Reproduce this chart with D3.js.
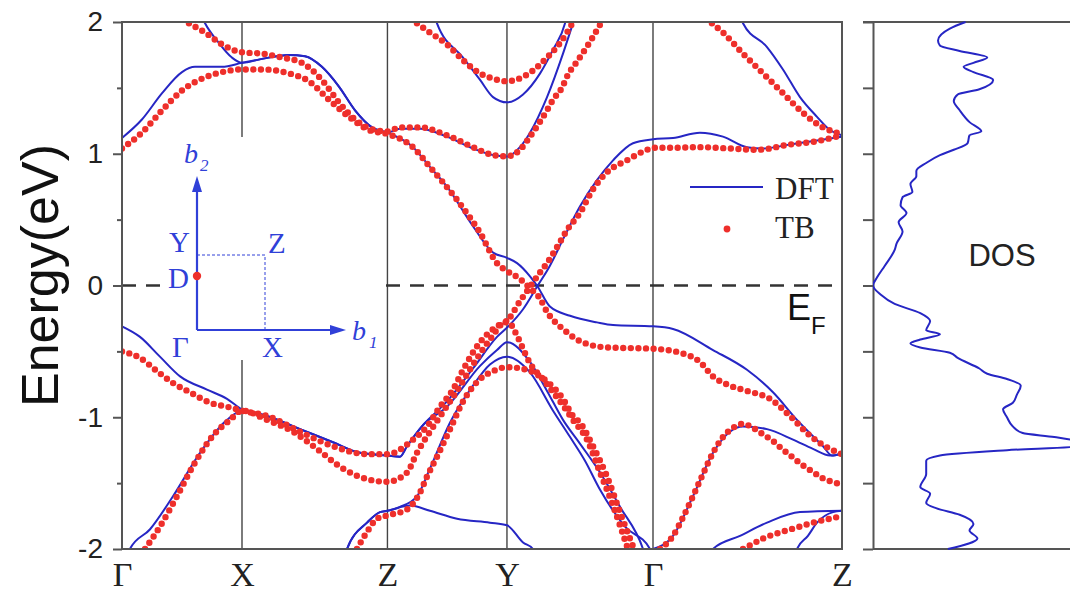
<!DOCTYPE html>
<html>
<head>
<meta charset="utf-8">
<script src="https://cdn.jsdelivr.net/npm/d3@7"></script>
<style>
  body { margin: 0; background: #fff; }
  .tick text { fill: #222; }
</style>
</head>
<body>
<div id="chart"></div>
<script>
var svgWidth = 1070;
var svgHeight = 595;

// band plot box and DOS panel box
var plot = { left: 122, right: 842, top: 22, bottom: 549 };
var dosBox = { left: 873, right: 1070 };

// k-path: cumulative distance of the high-symmetry points
var kNodes = [0, 0.5, 1.106, 1.604, 2.2125, 3.0];
var kLabels = ["Γ", "X", "Z", "Y", "Γ", "Z"];

var yMajor = [-2, -1, 0, 1, 2];
var yMajorLabels = ["-2", "-1", "0", "1", "2"];
var yMinor = [-1.5, -0.5, 0.5, 1.5];

// DFT bands, [k, E(eV)]
var dftBands = [
  [[0,1.12],[0.083,1.26],[0.167,1.46],[0.25,1.62],[0.304,1.66],[0.417,1.66],[0.5,1.69],[0.583,1.72],[0.696,1.75],[0.7625,1.74],[0.833,1.66],[0.904,1.51],[0.971,1.33],[1.042,1.2],[1.106,1.16],[1.2125,1.05],[1.283,0.9],[1.354,0.75],[1.4625,0.45],[1.546,0.25],[1.604,0.21],[1.646,0.17],[1.7,0.07],[1.729,0.0],[1.783,-0.16],[1.867,-0.23],[1.979,-0.28],[2.046,-0.3],[2.2125,-0.31],[2.296,-0.33],[2.4625,-0.49],[2.604,-0.64],[2.7125,-0.81],[2.8125,-1.02],[2.921,-1.22],[2.958,-1.29],[3.0,-1.27]],
  [[0.33,2.05],[0.346,1.99],[0.404,1.84],[0.458,1.73],[0.5,1.69],[0.583,1.72],[0.696,1.75],[0.7625,1.74],[0.833,1.66],[0.904,1.51],[0.971,1.33],[1.042,1.2],[1.106,1.16],[1.158,1.19],[1.242,1.19],[1.354,1.13],[1.4625,1.04],[1.546,0.99],[1.604,0.98],[1.658,1.05],[1.7,1.16],[1.771,1.43],[1.8375,1.76],[1.879,1.99],[1.89,2.05]],
  [[1.3,2.1],[1.3125,1.99],[1.421,1.73],[1.492,1.56],[1.546,1.43],[1.604,1.39],[1.671,1.45],[1.742,1.61],[1.796,1.79],[1.846,1.99],[1.86,2.1]],
  [[2.575,2.1],[2.5875,1.99],[2.6875,1.81],[2.754,1.64],[2.825,1.43],[2.896,1.28],[2.95,1.18],[3.0,1.14]],
  [[0,-0.31],[0.075,-0.39],[0.158,-0.54],[0.242,-0.69],[0.354,-0.79],[0.4375,-0.86],[0.5,-0.94],[0.604,-0.99],[0.742,-1.09],[0.879,-1.19],[0.992,-1.27],[1.106,-1.29],[1.158,-1.3],[1.1875,-1.22],[1.254,-1.06],[1.354,-0.88],[1.4625,-0.63],[1.5625,-0.39],[1.604,-0.32],[1.671,-0.18],[1.729,-0.01],[1.783,0.15],[1.8375,0.35],[1.908,0.6],[1.979,0.8],[2.046,0.95],[2.129,1.08],[2.2125,1.11],[2.296,1.12],[2.408,1.16],[2.504,1.13],[2.604,1.05],[2.671,1.04],[2.783,1.07],[2.896,1.1],[3.0,1.13]],
  [[0.02,-2.06],[0.033,-2.0],[0.117,-1.85],[0.2125,-1.6],[0.325,-1.27],[0.4375,-1.02],[0.5,-0.95],[0.604,-0.99],[0.742,-1.09],[0.879,-1.19],[0.992,-1.27],[1.106,-1.29],[1.158,-1.3],[1.1875,-1.22],[1.254,-1.06],[1.354,-0.92],[1.492,-0.61],[1.5625,-0.49],[1.604,-0.43],[1.7,-0.58],[1.771,-0.8],[1.8375,-1.02],[1.908,-1.2],[1.992,-1.42],[2.075,-1.68],[2.171,-2.0],[2.18,-2.05]],
  [[0.92,-2.1],[0.9375,-2.0],[1.021,-1.8],[1.075,-1.72],[1.106,-1.71],[1.158,-1.68],[1.229,-1.6],[1.283,-1.39],[1.367,-1.04],[1.4625,-0.76],[1.533,-0.6],[1.604,-0.54],[1.7,-0.66],[1.796,-0.95],[1.867,-1.15],[1.929,-1.33],[1.992,-1.55],[2.096,-1.83],[2.2,-2.0],[2.21,-2.05]],
  [[0.92,-2.1],[0.9375,-2.0],[1.021,-1.8],[1.075,-1.72],[1.106,-1.71],[1.2,-1.67],[1.283,-1.71],[1.396,-1.77],[1.533,-1.8],[1.604,-1.82],[1.671,-1.95],[1.7125,-2.0],[1.725,-2.08]],
  [[2.2125,-2.0],[2.296,-1.9],[2.379,-1.6],[2.4625,-1.27],[2.533,-1.11],[2.5875,-1.07],[2.6875,-1.09],[2.796,-1.17],[2.879,-1.24],[2.95,-1.29],[3.0,-1.28]],
  [[2.44,-2.08],[2.4625,-2.0],[2.575,-1.9],[2.6875,-1.8],[2.825,-1.72],[3.0,-1.71]],
  [[2.8,-2.08],[2.8125,-2.0],[2.858,-1.9],[2.896,-1.8],[2.9625,-1.72],[3.0,-1.71]]
];

// tight-binding bands, [k, E(eV)]
var tbBands = [
  [[0,1.04],[0.083,1.16],[0.167,1.33],[0.25,1.48],[0.346,1.58],[0.417,1.62],[0.5,1.64],[0.583,1.64],[0.696,1.61],[0.779,1.55],[0.8625,1.41],[0.946,1.28],[1.029,1.18],[1.106,1.15],[1.2125,1.05],[1.283,0.9],[1.396,0.65],[1.492,0.4],[1.5625,0.17],[1.604,0.11],[1.658,0.05],[1.7,-0.02],[1.742,-0.1],[1.771,-0.2],[1.796,-0.26],[1.8375,-0.33],[1.896,-0.41],[1.95,-0.45],[2.021,-0.47],[2.2125,-0.48],[2.325,-0.51],[2.408,-0.58],[2.4625,-0.69],[2.533,-0.76],[2.604,-0.8],[2.7,-0.86],[2.783,-0.99],[2.867,-1.14],[2.95,-1.24],[3.0,-1.28]],
  [[0.279,1.99],[0.346,1.92],[0.417,1.83],[0.5,1.77],[0.583,1.76],[0.667,1.73],[0.75,1.69],[0.833,1.56],[0.904,1.39],[0.971,1.26],[1.054,1.18],[1.106,1.17],[1.158,1.2],[1.242,1.2],[1.354,1.14],[1.4625,1.05],[1.546,0.99],[1.604,0.98],[1.658,1.03],[1.7,1.13],[1.771,1.33],[1.796,1.41],[1.833,1.5],[1.858,1.6],[1.896,1.7],[1.95,1.85],[1.992,1.98]],
  [[1.229,1.99],[1.283,1.92],[1.354,1.83],[1.421,1.71],[1.492,1.61],[1.546,1.57],[1.604,1.55],[1.6875,1.6],[1.771,1.73],[1.825,1.84],[1.854,1.92],[1.879,2.0]],
  [[2.458,1.99],[2.504,1.92],[2.5875,1.76],[2.671,1.61],[2.754,1.46],[2.8375,1.31],[2.921,1.2],[3.0,1.15]],
  [[0,-0.5],[0.075,-0.55],[0.146,-0.65],[0.2125,-0.74],[0.283,-0.81],[0.367,-0.89],[0.4375,-0.92],[0.5,-0.95],[0.604,-0.99],[0.742,-1.11],[0.879,-1.22],[1.021,-1.28],[1.106,-1.28],[1.2125,-1.17],[1.271,-1.07],[1.325,-0.92],[1.379,-0.79],[1.421,-0.64],[1.492,-0.43],[1.5625,-0.31],[1.604,-0.27],[1.658,-0.12],[1.7,-0.01],[1.742,0.1],[1.771,0.17],[1.825,0.33],[1.854,0.42],[1.908,0.55],[1.9625,0.73],[2.021,0.86],[2.104,0.95],[2.1875,1.03],[2.2125,1.045],[2.296,1.045],[2.408,1.05],[2.533,1.04],[2.646,1.03],[2.783,1.07],[2.879,1.09],[3.0,1.14]],
  [[0.096,-2.0],[0.158,-1.83],[0.229,-1.6],[0.296,-1.37],[0.379,-1.14],[0.45,-1.02],[0.5,-0.95],[0.604,-1.02],[0.7125,-1.11],[0.8125,-1.24],[0.921,-1.39],[1.021,-1.47],[1.106,-1.49],[1.1875,-1.42],[1.229,-1.27],[1.283,-1.11],[1.3375,-0.96],[1.396,-0.8],[1.4625,-0.6],[1.533,-0.41],[1.604,-0.27],[1.646,-0.38],[1.671,-0.48],[1.7,-0.59],[1.754,-0.71],[1.796,-0.81],[1.8375,-0.91],[1.879,-1.02],[1.9375,-1.17],[1.992,-1.42],[2.046,-1.67],[2.104,-1.98]],
  [[0.979,-2.0],[1.021,-1.87],[1.0625,-1.77],[1.106,-1.745],[1.1875,-1.7],[1.242,-1.57],[1.271,-1.45],[1.3125,-1.3],[1.367,-1.09],[1.421,-0.88],[1.492,-0.71],[1.546,-0.65],[1.604,-0.62],[1.6875,-0.64],[1.742,-0.69],[1.796,-0.77],[1.8375,-0.86],[1.879,-0.99],[1.908,-1.04],[1.9625,-1.22],[2.021,-1.45],[2.075,-1.72],[2.129,-1.98]],
  [[2.242,-2.0],[2.296,-1.9],[2.3375,-1.76],[2.379,-1.6],[2.421,-1.43],[2.4625,-1.27],[2.504,-1.15],[2.546,-1.08],[2.5875,-1.05],[2.629,-1.08],[2.671,-1.13],[2.7125,-1.18],[2.75,-1.24],[2.792,-1.3],[2.833,-1.36],[2.875,-1.41],[2.917,-1.46],[2.958,-1.49],[3.0,-1.51]],
  [[2.5875,-2.0],[2.629,-1.96],[2.671,-1.92],[2.75,-1.87],[2.825,-1.83],[2.879,-1.8],[2.95,-1.77],[3.0,-1.75]]
];

// density of states, read from top to bottom
var dosEnergy = [2.0,1.95,1.86,1.82,1.78,1.73,1.69,1.66,1.62,1.56,1.49,1.45,1.40,1.33,1.24,1.17,1.14,1.08,1.03,0.99,0.93,0.87,0.83,0.77,0.71,0.67,0.61,0.55,0.48,0.41,0.32,0.27,0.15,0.06,0.0,-0.07,-0.14,-0.21,-0.27,-0.34,-0.37,-0.41,-0.44,-0.47,-0.51,-0.55,-0.63,-0.67,-0.71,-0.76,-0.83,-0.89,-0.94,-1.0,-1.07,-1.12,-1.15,-1.19,-1.22,-1.25,-1.29,-1.33,-1.43,-1.53,-1.58,-1.65,-1.69,-1.74,-1.81,-1.86,-1.92,-2.0];
var dosValue  = [0.47,0.39,0.33,0.34,0.44,0.58,0.51,0.46,0.51,0.61,0.54,0.43,0.41,0.44,0.49,0.55,0.49,0.48,0.41,0.34,0.27,0.22,0.22,0.19,0.20,0.15,0.14,0.17,0.13,0.15,0.12,0.11,0.06,0.02,0.0,0.04,0.11,0.24,0.29,0.27,0.34,0.24,0.19,0.24,0.39,0.43,0.54,0.58,0.68,0.75,0.73,0.71,0.66,0.68,0.71,0.76,0.92,1.05,1.04,0.68,0.34,0.27,0.27,0.24,0.29,0.27,0.32,0.44,0.51,0.49,0.53,0.38];

var blue = "#2626c4";
var red = "#ee2f2b";
var frameGray = "#555";

var svg = d3.select("#chart")
  .append("svg")
  .attr("width", svgWidth)
  .attr("height", svgHeight)
  .style("font-family", "'Liberation Sans', Arial, sans-serif");

var x = d3.scaleLinear().domain([kNodes[0], kNodes[kNodes.length - 1]]).range([plot.left, plot.right]);
var y = d3.scaleLinear().domain([-2, 2]).range([plot.bottom, plot.top]);
var xDos = d3.scaleLinear().domain([0, 1]).range([dosBox.left, dosBox.right]);

var defs = svg.append("defs");
defs.append("clipPath").attr("id", "bandClip")
  .append("rect")
  .attr("x", plot.left).attr("y", plot.top)
  .attr("width", plot.right - plot.left).attr("height", plot.bottom - plot.top);
defs.append("clipPath").attr("id", "dosClip")
  .append("rect")
  .attr("x", dosBox.left).attr("y", plot.top - 2)
  .attr("width", dosBox.right - dosBox.left).attr("height", plot.bottom - plot.top + 4);

// high-symmetry vertical lines
svg.append("g").selectAll("line")
  .data(kNodes.slice(1, -1))
  .enter().append("line")
  .attr("x1", d => x(d)).attr("x2", d => x(d))
  .attr("y1", plot.top).attr("y2", plot.bottom)
  .attr("stroke", "#444").attr("stroke-width", 1.4);

// Fermi level
svg.append("line")
  .attr("x1", plot.left).attr("x2", plot.right)
  .attr("y1", y(0)).attr("y2", y(0))
  .attr("stroke", "#333").attr("stroke-width", 2.6)
  .attr("stroke-dasharray", "14,10");

// white backing of the Brillouin-zone inset
var inset = { ox: 197, oy: 330, w: 68, h: 75 };
svg.append("rect")
  .attr("x", 160).attr("y", 137)
  .attr("width", 226).attr("height", 223)
  .attr("fill", "#fff");

var line = d3.line()
  .x(d => x(d[0]))
  .y(d => y(d[1]))
  .curve(d3.curveMonotoneX);

var bands = svg.append("g").attr("clip-path", "url(#bandClip)");

bands.selectAll(".dft")
  .data(dftBands)
  .enter().append("path")
  .attr("class", "dft")
  .attr("d", line)
  .attr("fill", "none")
  .attr("stroke", blue)
  .attr("stroke-width", 2);

bands.selectAll(".tb")
  .data(tbBands)
  .enter().append("path")
  .attr("class", "tb")
  .attr("d", line)
  .attr("fill", "none")
  .attr("stroke", red)
  .attr("stroke-width", 6.4)
  .attr("stroke-linecap", "round")
  .attr("stroke-dasharray", "0 7.6");

// frame
svg.append("rect")
  .attr("x", plot.left).attr("y", plot.top)
  .attr("width", plot.right - plot.left).attr("height", plot.bottom - plot.top)
  .attr("fill", "none").attr("stroke", frameGray).attr("stroke-width", 2);

// left axis: major and minor ticks
var yAxisMajor = svg.append("g")
  .attr("transform", `translate(${plot.left},0)`)
  .call(d3.axisLeft(y).tickValues(yMajor).tickSize(9).tickPadding(10)
    .tickFormat((d, i) => yMajorLabels[i]));
yAxisMajor.select(".domain").remove();
yAxisMajor.selectAll("line").attr("stroke", frameGray).attr("stroke-width", 2);
yAxisMajor.selectAll("text").style("font-size", "28px")
  .style("font-family", "'Liberation Sans', Arial, sans-serif");

var yAxisMinor = svg.append("g")
  .attr("transform", `translate(${plot.left},0)`)
  .call(d3.axisLeft(y).tickValues(yMinor).tickSize(5).tickFormat(""));
yAxisMinor.select(".domain").remove();
yAxisMinor.selectAll("line").attr("stroke", frameGray).attr("stroke-width", 2);

// k-path labels
var xAxis = svg.append("g")
  .attr("transform", `translate(0,${plot.bottom})`)
  .call(d3.axisBottom(x).tickValues(kNodes).tickSize(0).tickPadding(13)
    .tickFormat((d, i) => kLabels[i]));
xAxis.select(".domain").remove();
xAxis.selectAll("text").style("font-size", "34px")
  .style("font-family", "'Liberation Serif', 'Times New Roman', serif");

// y title
svg.append("text")
  .attr("transform", `translate(58,${(plot.top + plot.bottom) / 2 - 10}) rotate(-90)`)
  .attr("text-anchor", "middle")
  .style("font-size", "52px")
  .attr("fill", "#111")
  .text("Energy(eV)");

// E_F label
svg.append("text").attr("x", 787).attr("y", 320)
  .style("font-size", "36px").attr("fill", "#111").text("E");
svg.append("text").attr("x", 811).attr("y", 334)
  .style("font-size", "24px").attr("fill", "#111").text("F");

// legend
var legend = svg.append("g").style("font-family", "'Liberation Serif', 'Times New Roman', serif");
legend.append("line")
  .attr("x1", 690).attr("x2", 763).attr("y1", 187).attr("y2", 187)
  .attr("stroke", blue).attr("stroke-width", 2.2);
legend.append("text").attr("x", 775).attr("y", 199)
  .style("font-size", "31px").attr("fill", "#222").text("DFT");
legend.append("circle").attr("cx", 727).attr("cy", 229).attr("r", 3.4).attr("fill", red);
legend.append("text").attr("x", 775).attr("y", 238)
  .style("font-size", "31px").attr("fill", "#222").text("TB");

// Brillouin-zone inset
var insetBlue = "#3040d8";
var bz = svg.append("g").style("font-family", "'Liberation Serif', 'Times New Roman', serif");
bz.append("path")
  .attr("d", `M${inset.ox},${inset.oy - inset.h} H${inset.ox + inset.w} V${inset.oy}`)
  .attr("fill", "none").attr("stroke", insetBlue).attr("stroke-width", 1)
  .attr("stroke-dasharray", "3,2");
bz.append("line")
  .attr("x1", inset.ox).attr("y1", inset.oy).attr("x2", inset.ox).attr("y2", 190)
  .attr("stroke", insetBlue).attr("stroke-width", 2.2);
bz.append("line")
  .attr("x1", inset.ox).attr("y1", inset.oy).attr("x2", 332).attr("y2", inset.oy)
  .attr("stroke", insetBlue).attr("stroke-width", 2.2);
bz.append("path")
  .attr("d", `M${inset.ox},176 l-5,16 l10,0 z`)
  .attr("fill", insetBlue);
bz.append("path")
  .attr("d", `M346,${inset.oy} l-16,-5 l0,10 z`)
  .attr("fill", insetBlue);
bz.append("circle").attr("cx", inset.ox).attr("cy", 276).attr("r", 4.2).attr("fill", red);

var bzLabels = [
  { t: "Y", x: 169, y: 252 },
  { t: "Z", x: 268, y: 253 },
  { t: "D", x: 168, y: 288 },
  { t: "Γ", x: 172, y: 357 },
  { t: "X", x: 262, y: 357 }
];
bz.selectAll(".bzl")
  .data(bzLabels)
  .enter().append("text")
  .attr("x", d => d.x).attr("y", d => d.y)
  .style("font-size", "29px")
  .attr("fill", insetBlue)
  .text(d => d.t);
bz.append("text").attr("x", 184).attr("y", 163)
  .style("font-size", "28px").style("font-style", "italic")
  .attr("fill", insetBlue).text("b");
bz.append("text").attr("x", 200).attr("y", 171)
  .style("font-size", "17px").style("font-style", "italic")
  .attr("fill", insetBlue).text("2");
bz.append("text").attr("x", 352).attr("y", 340)
  .style("font-size", "28px").style("font-style", "italic")
  .attr("fill", insetBlue).text("b");
bz.append("text").attr("x", 369).attr("y", 348)
  .style("font-size", "17px").style("font-style", "italic")
  .attr("fill", insetBlue).text("1");

// DOS panel
var dosAxis = svg.append("g")
  .attr("transform", `translate(${dosBox.left},0)`)
  .call(d3.axisLeft(y).tickValues(yMajor.concat(yMinor)).tickSize(10).tickSizeOuter(0).tickFormat(""));
dosAxis.select(".domain").attr("stroke", frameGray).attr("stroke-width", 2);
dosAxis.selectAll("line").attr("stroke", frameGray).attr("stroke-width", 2);

svg.append("line")
  .attr("x1", dosBox.left - 10).attr("x2", dosBox.right)
  .attr("y1", plot.top).attr("y2", plot.top)
  .attr("stroke", frameGray).attr("stroke-width", 2);
svg.append("line")
  .attr("x1", dosBox.left).attr("x2", dosBox.right)
  .attr("y1", plot.bottom).attr("y2", plot.bottom)
  .attr("stroke", frameGray).attr("stroke-width", 2);

var dosLine = d3.line()
  .x((d, i) => xDos(dosValue[i]))
  .y(d => y(d))
  .curve(d3.curveMonotoneY);

svg.append("path")
  .datum(dosEnergy)
  .attr("clip-path", "url(#dosClip)")
  .attr("d", dosLine)
  .attr("fill", "none")
  .attr("stroke", blue)
  .attr("stroke-width", 2);

svg.append("text")
  .attr("x", 1002).attr("y", 266)
  .attr("text-anchor", "middle")
  .style("font-size", "31px")
  .attr("fill", "#222")
  .text("DOS");
</script>
</body>
</html>
